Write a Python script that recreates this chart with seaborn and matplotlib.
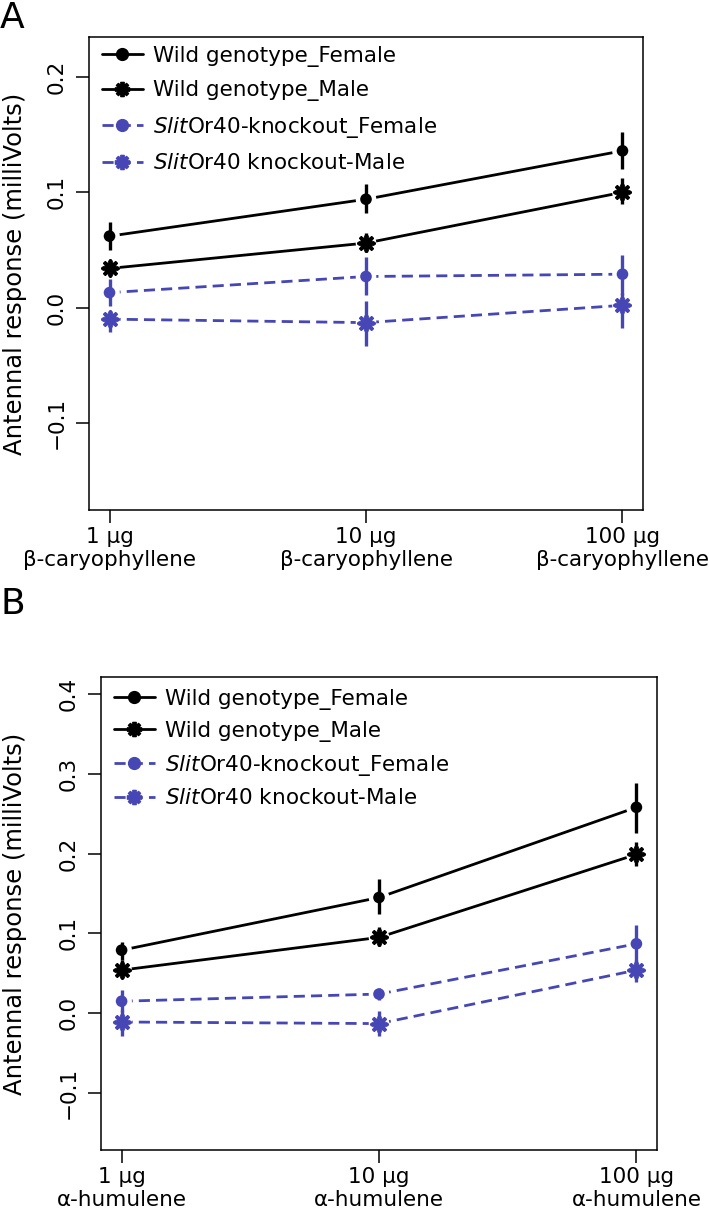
import matplotlib
matplotlib.use("Agg")
import matplotlib.pyplot as plt
from matplotlib.lines import Line2D
import seaborn as sns
import pandas as pd
import numpy as np

# ---------------- data ----------------
positions = [1, 2, 3]
labels_A = ["1 µg\nβ-caryophyllene", "10 µg\nβ-caryophyllene", "100 µg\nβ-caryophyllene"]
labels_B = ["1 µg\nα-humulene", "10 µg\nα-humulene", "100 µg\nα-humulene"]

series_names = ["Wild genotype_Female", "Wild genotype_Male",
                r"$\mathit{Slit}$Or40-knockout_Female", r"$\mathit{Slit}$Or40 knockout-Male"]

# Panel A (beta-caryophyllene): mean, lower, upper
wt_f_A = [0.062, 0.094, 0.136]
wt_f_A_lo = [0.050, 0.082, 0.120]
wt_f_A_hi = [0.074, 0.107, 0.152]
wt_m_A = [0.034, 0.056, 0.100]
wt_m_A_lo = [0.028, 0.048, 0.090]
wt_m_A_hi = [0.040, 0.065, 0.112]
ko_f_A = [0.013, 0.027, 0.029]
ko_f_A_lo = [0.001, 0.011, 0.011]
ko_f_A_hi = [0.025, 0.044, 0.046]
ko_m_A = [-0.010, -0.013, 0.002]
ko_m_A_lo = [-0.021, -0.033, -0.018]
ko_m_A_hi = [-0.003, 0.006, 0.013]

# Panel B (alpha-humulene)
wt_f_B = [0.079, 0.145, 0.258]
wt_f_B_lo = [0.067, 0.124, 0.226]
wt_f_B_hi = [0.089, 0.168, 0.289]
wt_m_B = [0.054, 0.095, 0.199]
wt_m_B_lo = [0.044, 0.084, 0.184]
wt_m_B_hi = [0.067, 0.108, 0.215]
ko_f_B = [0.015, 0.024, 0.087]
ko_f_B_lo = [0.001, 0.017, 0.063]
ko_f_B_hi = [0.029, 0.031, 0.111]
ko_m_B = [-0.011, -0.013, 0.054]
ko_m_B_lo = [-0.029, -0.028, 0.039]
ko_m_B_hi = [0.004, 0.003, 0.067]

yticks_A = [-0.1, 0.0, 0.1, 0.2]
yticks_B = [-0.1, 0.0, 0.1, 0.2, 0.3, 0.4]

# ---------------- style ----------------
sns.set_style("ticks")
plt.rcParams["font.family"] = ["DejaVu Sans"]
plt.rcParams["mathtext.fontset"] = "dejavusans"
for k in ["text.color", "axes.labelcolor", "xtick.color", "ytick.color", "axes.edgecolor"]:
    plt.rcParams[k] = "black"

BLACK = "#000000"
BLUE = "#4646B4"
FS = 15.5
FS_LAB = 17.5
STAR = (8, 2, 0)

styles = [
    dict(color=BLACK, ls="-", marker="o", s=70, ms=8.5),
    dict(color=BLACK, ls="-", marker=STAR, s=110, ms=11),
    dict(color=BLUE, ls=(0, (4, 2.2)), marker="o", s=70, ms=8.5),
    dict(color=BLUE, ls=(0, (4, 2.2)), marker=STAR, s=110, ms=11),
]

fig = plt.figure(figsize=(7.09, 12.14), dpi=100)
axA = fig.add_axes([89 / 709, 1 - 510 / 1214, 554 / 709, 473 / 1214])
axB = fig.add_axes([101 / 709, 1 - 1150 / 1214, 556 / 709, 473 / 1214])


def draw_panel(ax, means, los, his, xlabels, ylim, yticks, label_x_px, ax_left_px, ax_w_px,
               leg_top_px, leg_spacing):
    frames = []
    for name, m, lo, hi in zip(series_names, means, los, his):
        frames.append(pd.DataFrame({"pos": positions, "value": m, "lo": lo, "hi": hi, "series": name}))
    df = pd.concat(frames, ignore_index=True)

    # connecting lines
    for name, st in zip(series_names, styles):
        sub = df[df["series"] == name]
        sns.lineplot(data=sub, x="pos", y="value", ax=ax, color=st["color"],
                     linestyle=st["ls"], linewidth=2.0, legend=False, zorder=2)
    # white halos to create R type="b" gaps
    for name, st in zip(series_names, styles):
        sub = df[df["series"] == name]
        sns.scatterplot(data=sub, x="pos", y="value", ax=ax, color="white", marker="o",
                        s=220, edgecolor="none", legend=False, zorder=3)
    # error bars
    for name, st in zip(series_names, styles):
        sub = df[df["series"] == name]
        ax.vlines(sub["pos"], sub["lo"], sub["hi"], color=st["color"], linewidth=2.4, zorder=4)
    # markers
    for name, st in zip(series_names, styles):
        sub = df[df["series"] == name]
        if st["marker"] == "o":
            sns.scatterplot(data=sub, x="pos", y="value", ax=ax, color=st["color"], marker="o",
                            s=st["s"], edgecolor="none", legend=False, zorder=5)
        else:
            sns.scatterplot(data=sub, x="pos", y="value", ax=ax, color=st["color"], marker=st["marker"],
                            s=st["s"], edgecolor=st["color"], linewidths=2.8, legend=False, zorder=5)

    ax.set_xlim(0.92, 3.08)
    ax.set_ylim(*ylim)
    ax.set_xticks(positions)
    ax.set_xticklabels(xlabels, fontsize=FS)
    ax.set_yticks(yticks)
    ax.set_yticklabels([f"{t:.1f}".replace("-", "\u2212") for t in yticks], fontsize=FS,
                       rotation=90, va="center")
    ax.tick_params(axis="both", direction="out", length=9.4, width=1.1, color="black")
    ax.tick_params(axis="x", pad=3)
    ax.tick_params(axis="y", pad=7)
    for sp in ax.spines.values():
        sp.set_visible(True)
        sp.set_color("black")
        sp.set_linewidth(1.1)
    ax.set_xlabel("")
    ax.set_ylabel("Antennal response (milliVolts)", fontsize=FS_LAB)
    ax.yaxis.set_label_coords((label_x_px - ax_left_px) / ax_w_px, 0.5)

    handles = []
    for st in styles:
        if st["marker"] == "o":
            h = Line2D([], [], color=st["color"], linestyle=st["ls"], linewidth=2.0,
                       marker="o", markersize=st["ms"], markerfacecolor=st["color"],
                       markeredgecolor=st["color"])
        else:
            h = Line2D([], [], color=st["color"], linestyle=st["ls"], linewidth=2.0,
                       marker=st["marker"], markersize=st["ms"], markeredgewidth=2.8,
                       markeredgecolor=st["color"])
        handles.append(h)
    ax.legend(handles, series_names, loc="upper left",
              bbox_to_anchor=(13 / ax_w_px, 1 - leg_top_px / 473), borderaxespad=0, borderpad=0,
              frameon=False, fontsize=FS, handlelength=1.9, handletextpad=0.45,
              labelspacing=leg_spacing, numpoints=1)


draw_panel(axA, [wt_f_A, wt_m_A, ko_f_A, ko_m_A],
           [wt_f_A_lo, wt_m_A_lo, ko_f_A_lo, ko_m_A_lo],
           [wt_f_A_hi, wt_m_A_hi, ko_f_A_hi, ko_m_A_hi],
           labels_A, (-0.1755, 0.2347), yticks_A, 27, 89, 554, 9, 0.62)

draw_panel(axB, [wt_f_B, wt_m_B, ko_f_B, ko_m_B],
           [wt_f_B_lo, wt_m_B_lo, ko_f_B_lo, ko_m_B_lo],
           [wt_f_B_hi, wt_m_B_hi, ko_f_B_hi, ko_m_B_hi],
           labels_B, (-0.1714, 0.4213), yticks_B, 27, 101, 556, 12, 0.5)

fig.text(0.0, 1 - 1 / 1214, "A", fontsize=26, va="top", ha="left")
fig.text(0.0, 1 - 587 / 1214, "B", fontsize=26, va="top", ha="left")

fig.savefig("out.png", dpi=100)
